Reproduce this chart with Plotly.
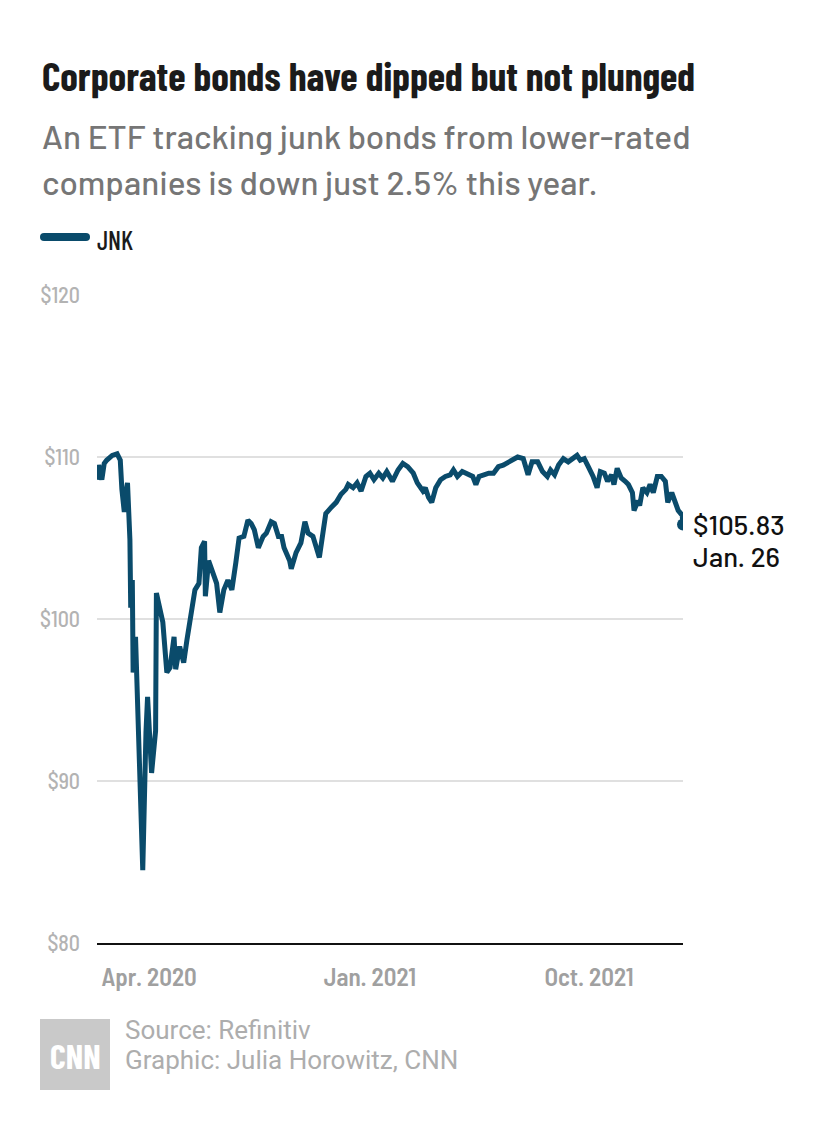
import plotly.graph_objects as go

# ---- data ----
dates = [
    "2020-01-27", "2020-01-29", "2020-02-02", "2020-02-05", "2020-02-08", "2020-02-15", "2020-02-21",
    "2020-02-25", "2020-02-27", "2020-03-01", "2020-03-03", "2020-03-05", "2020-03-08", "2020-03-09",
    "2020-03-11", "2020-03-12", "2020-03-15", "2020-03-18", "2020-03-21", "2020-03-24", "2020-03-28",
    "2020-03-30", "2020-04-04", "2020-04-09", "2020-04-10", "2020-04-14", "2020-04-18", "2020-04-23",
    "2020-04-27", "2020-05-02", "2020-05-04", "2020-05-09", "2020-05-14", "2020-05-18", "2020-05-22",
    "2020-05-28", "2020-06-02", "2020-06-05", "2020-06-09", "2020-06-10", "2020-06-14", "2020-06-19",
    "2020-06-24", "2020-06-28", "2020-07-03", "2020-07-08", "2020-07-13", "2020-07-18", "2020-07-22",
    "2020-07-28", "2020-08-02", "2020-08-06", "2020-08-10", "2020-08-15", "2020-08-21", "2020-08-25",
    "2020-08-31", "2020-09-04", "2020-09-09", "2020-09-13", "2020-09-16", "2020-09-23", "2020-09-25",
    "2020-10-01", "2020-10-07", "2020-10-12", "2020-10-16", "2020-10-22", "2020-10-27", "2020-10-30",
    "2020-11-04", "2020-11-07", "2020-11-14", "2020-11-20", "2020-11-26", "2020-12-02", "2020-12-05",
    "2020-12-11", "2020-12-16", "2020-12-21", "2020-12-27", "2021-01-01", "2021-01-06", "2021-01-12",
    "2021-01-17", "2021-01-22", "2021-01-29", "2021-02-05", "2021-02-11", "2021-02-17", "2021-02-24",
    "2021-03-01", "2021-03-08", "2021-03-11", "2021-03-15", "2021-03-19", "2021-03-24", "2021-03-30",
    "2021-04-05", "2021-04-11", "2021-04-15", "2021-04-20", "2021-04-26", "2021-05-03", "2021-05-09",
    "2021-05-13", "2021-05-17", "2021-05-23", "2021-05-29", "2021-06-04", "2021-06-10", "2021-06-16",
    "2021-06-23", "2021-06-29", "2021-07-04", "2021-07-11", "2021-07-17", "2021-07-22", "2021-07-29",
    "2021-08-04", "2021-08-10", "2021-08-14", "2021-08-19", "2021-08-24", "2021-08-30", "2021-09-05",
    "2021-09-11", "2021-09-16", "2021-09-20", "2021-09-25", "2021-09-30", "2021-10-06", "2021-10-11",
    "2021-10-15", "2021-10-20", "2021-10-24", "2021-10-29", "2021-11-01", "2021-11-05", "2021-11-10",
    "2021-11-15", "2021-11-19", "2021-11-24", "2021-11-26", "2021-12-01", "2021-12-03", "2021-12-07",
    "2021-12-12", "2021-12-16", "2021-12-20", "2021-12-25", "2021-12-30", "2022-01-04", "2022-01-07",
    "2022-01-12", "2022-01-16", "2022-01-20", "2022-01-25", "2022-01-26",
]
prices = [
    108.6, 109.5, 108.6, 109.6, 109.8, 110.1, 110.2,
    109.8, 108.0, 106.6, 107.8, 108.4, 104.9, 100.7,
    102.4, 96.7, 98.9, 93.6, 89.4, 84.5, 93.0,
    95.2, 90.5, 93.1, 101.6, 100.7, 99.8, 96.7,
    97.0, 98.9, 96.9, 98.3, 97.3, 98.7, 100.1,
    101.8, 102.2, 104.4, 104.8, 101.4, 103.6, 103.0,
    102.2, 100.4, 101.8, 102.4, 101.8, 103.5, 105.0,
    105.1, 106.1, 105.9, 105.5, 104.4, 105.1, 105.3,
    106.0, 105.9, 105.1, 105.1, 104.4, 103.6, 103.1,
    104.1, 104.7, 106.0, 105.3, 105.1, 104.1, 103.8,
    105.5, 106.5, 106.9, 107.2, 107.7, 108.0, 108.3,
    108.1, 108.4, 107.9, 108.8, 109.0, 108.6, 109.0,
    108.7, 109.1, 108.5, 109.2, 109.6, 109.4, 109.0,
    108.4, 107.9, 108.1, 107.5, 107.2, 108.1, 108.6,
    108.8, 108.9, 109.2, 108.8, 109.1, 108.9, 108.8,
    108.3, 108.8, 108.9, 109.0, 109.0, 109.4, 109.5,
    109.7, 109.9, 110.0, 109.9, 108.9, 109.7, 109.7,
    109.1, 108.8, 109.2, 108.9, 109.5, 109.9, 109.7,
    109.9, 110.1, 109.8, 109.9, 109.4, 108.8, 108.1,
    109.1, 109.0, 108.5, 108.9, 108.3, 109.3, 108.7,
    108.5, 108.3, 107.8, 106.7, 107.3, 107.0, 108.1,
    107.8, 108.3, 107.8, 108.8, 108.8, 108.5, 107.2,
    107.8, 107.2, 106.7, 106.4, 105.83,
]
series_name = "JNK"
y_tickvals = [80, 90, 100, 110, 120]
y_ticktext = ["$80", "$90", "$100", "$110", "$120"]
x_tickvals = ["2020-04-01", "2021-01-01", "2021-10-01"]
x_ticktext = ["Apr. 2020", "Jan. 2021", "Oct. 2021"]
last_label = ["$105.83", "Jan. 26"]

title = "Corporate bonds have dipped but not plunged"
subtitle = ["An ETF tracking junk bonds from lower-rated", "companies is down just 2.5% this year."]
source = ["Source: Refinitiv", "Graphic: Julia Horowitz, CNN"]

# ---- layout geometry (page pixels; page body has an 8px margin) ----
OFF = 8
W, H = 830 - OFF, 1142 - OFF
L, R, T, B = 97, 683, 295, 943
LINE_COLOR = "#0a4b6b"
BC = "Barlow Condensed"
BSC = "Barlow Semi Condensed"
BAR = "Barlow"


def px(X):
    return (X - L) / (R - L)


def py(Y):
    return (B - Y) / (B - T)


fig = go.Figure()
fig.add_trace(go.Scatter(
    x=dates, y=prices, mode="lines", name=series_name,
    line=dict(color=LINE_COLOR, width=5), showlegend=False, hoverinfo="x+y",
))
fig.add_trace(go.Scatter(
    x=[dates[-1]], y=[prices[-1]], mode="markers",
    marker=dict(color=LINE_COLOR, size=12), showlegend=False, hoverinfo="skip",
))

annotations = []
annotations.append(dict(
    text=title, x=px(40), y=py(75), xref="paper", yref="paper",
    xanchor="left", yanchor="middle", showarrow=False,
    font=dict(family=BC, size=39.8, weight=700, color="#1b1b1b"),
))
for i, line in enumerate(subtitle):
    annotations.append(dict(
        text=line, x=px(40), y=py(136 + 46 * i), xref="paper", yref="paper",
        xanchor="left", yanchor="middle", showarrow=False,
        font=dict(family=BAR, size=33.3, weight=500, color="#767676"),
    ))
annotations.append(dict(
    text=series_name, x=px(95), y=py(239), xref="paper", yref="paper",
    xanchor="left", yanchor="middle", showarrow=False,
    font=dict(family=BC, size=26, weight=500, color="#1b1b1b"),
))
annotations.append(dict(
    text=last_label[0], x=dates[-1], y=prices[-1], xref="x", yref="y",
    xanchor="left", yanchor="middle", xshift=8, yshift=1, showarrow=False,
    font=dict(family=BAR, size=27.5, weight=500, color="#111111"),
))
annotations.append(dict(
    text=last_label[1], x=dates[-1], y=prices[-1], xref="x", yref="y",
    xanchor="left", yanchor="middle", xshift=8, yshift=-31, showarrow=False,
    font=dict(family=BAR, size=27.5, weight=500, color="#111111"),
))
for i, line in enumerate(source):
    annotations.append(dict(
        text=line, x=px(123), y=py(1030 + 30 * i), xref="paper", yref="paper",
        xanchor="left", yanchor="middle", showarrow=False,
        font=dict(family="Roboto", size=26, weight=400, color="#adadad"),
    ))
annotations.append(dict(
    text="CNN", x=px(75), y=py(1055), xref="paper", yref="paper",
    xanchor="center", yanchor="middle", showarrow=False,
    font=dict(family=BC, size=34, weight=700, color="#ffffff"),
))

shapes = [
    # legend swatch
    dict(type="line", xref="paper", yref="paper", x0=px(44), x1=px(86), y0=py(237), y1=py(237),
         line=dict(color=LINE_COLOR, width=8)),
    dict(type="circle", xref="paper", yref="paper", xsizemode="pixel", ysizemode="pixel",
         xanchor=px(44), yanchor=py(237), x0=-4, x1=4, y0=-4, y1=4,
         fillcolor=LINE_COLOR, line=dict(width=0)),
    dict(type="circle", xref="paper", yref="paper", xsizemode="pixel", ysizemode="pixel",
         xanchor=px(86), yanchor=py(237), x0=-4, x1=4, y0=-4, y1=4,
         fillcolor=LINE_COLOR, line=dict(width=0)),
    # CNN logo box
    dict(type="rect", xref="paper", yref="paper", x0=px(40), x1=px(110), y0=py(1019), y1=py(1090),
         fillcolor="#c9c9c9", line=dict(width=0), layer="below"),
]

fig.update_layout(
    width=W, height=H,
    margin=dict(l=L - OFF, r=830 - R, t=T - OFF, b=1142 - B, pad=0),
    paper_bgcolor="white", plot_bgcolor="white",
    annotations=annotations, shapes=shapes,
    showlegend=False,
    xaxis=dict(
        range=["2020-01-27", "2022-01-26"], tickvals=x_tickvals, ticktext=x_ticktext,
        showgrid=False, zeroline=False, showline=True, linecolor="#111111", linewidth=2,
        ticks="", ticklabelstandoff=11,
        tickfont=dict(family=BSC, size=25, weight=600, color="#a0a0a0"),
        fixedrange=True,
    ),
    yaxis=dict(
        range=[80, 120], tickvals=y_tickvals, ticktext=y_ticktext,
        showgrid=True, gridcolor="#e0e0e0", gridwidth=2, zeroline=False,
        ticks="", ticklabelstandoff=16,
        tickfont=dict(family=BSC, size=22, weight=500, color="#b3b3b3"),
        fixedrange=True,
    ),
)

fig.write_html("out.html")
